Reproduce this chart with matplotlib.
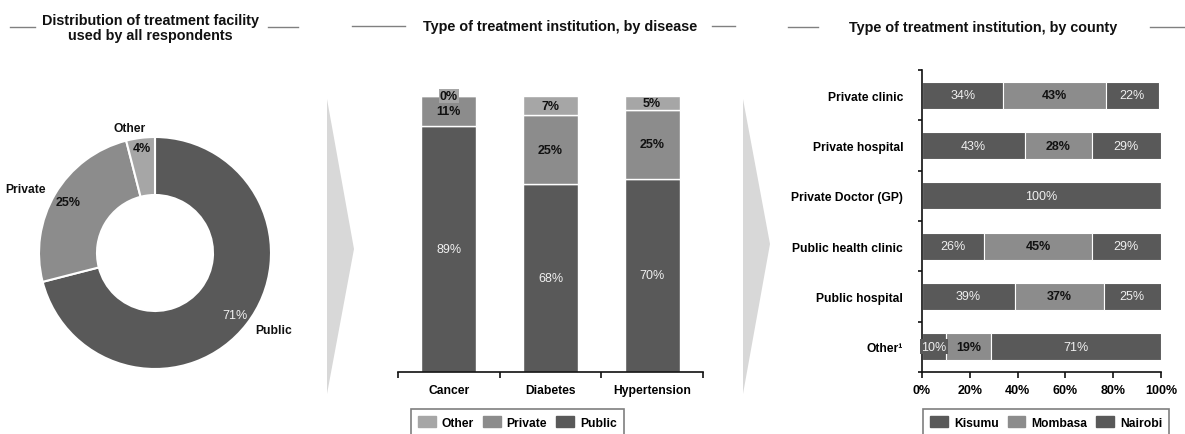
import matplotlib
matplotlib.use("Agg")
import matplotlib.pyplot as plt
import numpy as np
from matplotlib.patches import Polygon, Patch
from matplotlib.lines import Line2D

plt.rcParams['font.family'] = ['Liberation Sans', 'DejaVu Sans']

W, H = 1185, 435
DARK = '#595959'
MID = '#8c8c8c'
LIGHT = '#a6a6a6'
PALE = '#f0f0f0'

# Share of treatment facility used by all respondents
facility_labels = ['Public', 'Private', 'Other']
facility_share = [71, 25, 4]

# Treatment institution by disease
diseases = ['Cancer', 'Diabetes', 'Hypertension']
disease_public = [89, 68, 70]
disease_private = [11, 25, 25]
disease_other = [0, 7, 5]

# Treatment institution by county
institutions = ['Private clinic', 'Private hospital', 'Private Doctor (GP)',
                'Public health clinic', 'Public hospital', 'Other\u00b9']
kisumu = [34, 43, 100, 26, 39, 10]
mombasa = [43, 28, 0, 45, 37, 19]
nairobi = [22, 29, 0, 29, 25, 71]
pct_ticks = [0, 20, 40, 60, 80, 100]

fig = plt.figure(figsize=(W / 100, H / 100), dpi=100)


def fbox(x0, y0, x1, y1):
    """Pixel box (top-left origin) -> figure-fraction rect."""
    return [x0 / W, 1 - y1 / H, (x1 - x0) / W, (y1 - y0) / H]


def fpt(x, y):
    return (x / W, 1 - y / H)


# ---------- section titles with side rules ----------
TITLE_KW = dict(ha='center', va='center', fontweight='bold', fontsize=10.4, color='#111111')
fig.text(*fpt(150.5, 28.5), 'Distribution of treatment facility\nused by all respondents',
         linespacing=1.1, **TITLE_KW)
fig.text(*fpt(560.5, 27), 'Type of treatment institution, by disease', **TITLE_KW)
fig.text(*fpt(983.5, 28), 'Type of treatment institution, by county', **TITLE_KW)

for (x0, x1, y) in [(10, 35, 28), (268, 298, 28), (352, 405, 27), (712, 735, 27),
                    (788, 818, 28), (1150, 1185, 28)]:
    fig.add_artist(Line2D([x0 / W, x1 / W], [1 - y / H, 1 - y / H],
                          color='#808080', lw=1.0, transform=fig.transFigure))

# ---------- chevrons between sections ----------
for pts in ([(327, 100), (354, 250), (327, 395)], [(743, 100), (770, 245), (743, 395)]):
    fig.add_artist(Polygon([fpt(x, y) for x, y in pts], closed=True,
                           facecolor='#d8d8d8', edgecolor='none',
                           transform=fig.transFigure))

# ---------- donut ----------
ax1 = fig.add_axes(fbox(39, 138, 271, 370))
wedges, texts, autotexts = ax1.pie(
    facility_share, labels=facility_labels, colors=[DARK, MID, LIGHT],
    startangle=90, counterclock=False, autopct='%.0f%%',
    pctdistance=0.87, labeldistance=1.09,
    wedgeprops=dict(width=0.5, edgecolor='white', linewidth=1.5),
    textprops=dict(fontsize=8.7, fontweight='bold', color='#111111'))
ax1.set_xlim(-1, 1)
ax1.set_ylim(-1, 1)
for t in autotexts:
    t.set_fontsize(9)
autotexts[0].set_color(PALE)
autotexts[0].set_fontweight('normal')
# the narrow "Other" slice: keep its label pair a little further out
autotexts[2].set_position(np.array(autotexts[2].get_position()) * 1.05)
texts[2].set_horizontalalignment('center')
texts[2].set_position(np.array(texts[2].get_position()) * np.array([1.6, 1.0]))

# ---------- stacked columns by disease ----------
ax2 = fig.add_axes(fbox(398, 97, 703, 373))
x = np.arange(len(diseases))
bw = 0.54
b_pub = ax2.bar(x, disease_public, bw, color=DARK, edgecolor='white', lw=1)
b_pri = ax2.bar(x, disease_private, bw, bottom=disease_public, color=MID,
                edgecolor='white', lw=1)
bottom_other = [a + b for a, b in zip(disease_public, disease_private)]
b_oth = ax2.bar(x, disease_other, bw, bottom=bottom_other, color=LIGHT,
                edgecolor='white', lw=1)
ax2.set_xlim(-0.5, len(diseases) - 0.5)
ax2.set_ylim(0, 100)
for s in ('top', 'right', 'left'):
    ax2.spines[s].set_visible(False)
ax2.spines['bottom'].set_color('#111111')
ax2.spines['bottom'].set_linewidth(1.2)
ax2.set_yticks([])
ax2.set_xticks(x, diseases)
ax2.set_xticks(np.arange(-0.5, len(diseases)), minor=True)
ax2.tick_params(axis='x', which='major', length=0, pad=8.8, labelsize=8.7)
ax2.tick_params(axis='x', which='minor', length=4, width=1.2, direction='out', color='#111111')
for lab in ax2.get_xticklabels():
    lab.set_fontweight('bold')

ax2.bar_label(b_pub, labels=[f'{v}%' for v in disease_public], label_type='center',
              color=PALE, fontsize=9)
ax2.bar_label(b_pri, labels=[f'{v}%' for v in disease_private], label_type='center',
              color='#111111', fontsize=9, fontweight='bold')
oth_txt = ax2.bar_label(b_oth, labels=[f'{v}%' for v in disease_other], label_type='center',
                        color='#111111', fontsize=9, fontweight='bold')
for v, t in zip(disease_other, oth_txt):
    if v == 0:
        t.set_bbox(dict(facecolor=LIGHT, edgecolor='none', pad=0.6))

# ---------- stacked bars by county ----------
ax3 = fig.add_axes(fbox(922, 71, 1161, 373))
y = np.arange(len(institutions))
bh = 0.54
left_m = kisumu
left_n = [a + b for a, b in zip(kisumu, mombasa)]
h_k = ax3.barh(y, kisumu, bh, color=DARK, edgecolor='white', lw=0.8)
h_m = ax3.barh(y, mombasa, bh, left=left_m, color=MID, edgecolor='white', lw=0.8)
h_n = ax3.barh(y, nairobi, bh, left=left_n, color=DARK, edgecolor='white', lw=0.8)
ax3.set_xlim(0, 100)
ax3.set_ylim(len(institutions) - 0.5, -0.5)
for s in ('top', 'right'):
    ax3.spines[s].set_visible(False)
for s in ('left', 'bottom'):
    ax3.spines[s].set_color('#111111')
    ax3.spines[s].set_linewidth(1.2)
ax3.set_yticks(y, institutions)
ax3.set_yticks(np.arange(-0.5, len(institutions)), minor=True)
ax3.tick_params(axis='y', which='major', length=0, pad=13.5, labelsize=8.7)
ax3.tick_params(axis='y', which='minor', length=3, width=1.2, direction='out', color='#111111')
ax3.set_xticks(pct_ticks, [f'{t}%' for t in pct_ticks])
ax3.tick_params(axis='x', which='major', length=4, width=1.2, direction='out',
                pad=4.5, labelsize=9, color='#111111')
for lab in ax3.get_yticklabels() + ax3.get_xticklabels():
    lab.set_fontweight('bold')


def vlabels(vals):
    return [f'{v}%' if v > 0 else '' for v in vals]


k_txt = ax3.bar_label(h_k, labels=vlabels(kisumu), label_type='center', color=PALE, fontsize=9)
ax3.bar_label(h_m, labels=vlabels(mombasa), label_type='center', color='#111111',
              fontsize=9, fontweight='bold')
ax3.bar_label(h_n, labels=vlabels(nairobi), label_type='center', color=PALE, fontsize=9)
for v, t in zip(kisumu, k_txt):
    if 0 < v < 12:
        t.set_bbox(dict(facecolor=DARK, edgecolor='none', pad=1.0))

# ---------- legends ----------
LEG_KW = dict(loc='upper left', ncol=3, frameon=True, fancybox=False, framealpha=1,
              edgecolor='#7f7f7f', handlelength=1.45, handleheight=1.05,
              handletextpad=0.5, columnspacing=0.75, borderpad=0.6, borderaxespad=0,
              prop=dict(size=8.7, weight='bold'))
lg2 = fig.legend(handles=[Patch(color=LIGHT, label='Other'),
                          Patch(color=MID, label='Private'),
                          Patch(color=DARK, label='Public')],
                 bbox_to_anchor=fpt(411, 410), **LEG_KW)
lg3 = fig.legend(handles=[Patch(color=DARK, label='Kisumu'),
                          Patch(color=MID, label='Mombasa'),
                          Patch(color=DARK, label='Nairobi')],
                 bbox_to_anchor=fpt(923, 410), **LEG_KW)
for lg in (lg2, lg3):
    lg.get_frame().set_linewidth(1.2)

fig.savefig('out.png', dpi=100)
